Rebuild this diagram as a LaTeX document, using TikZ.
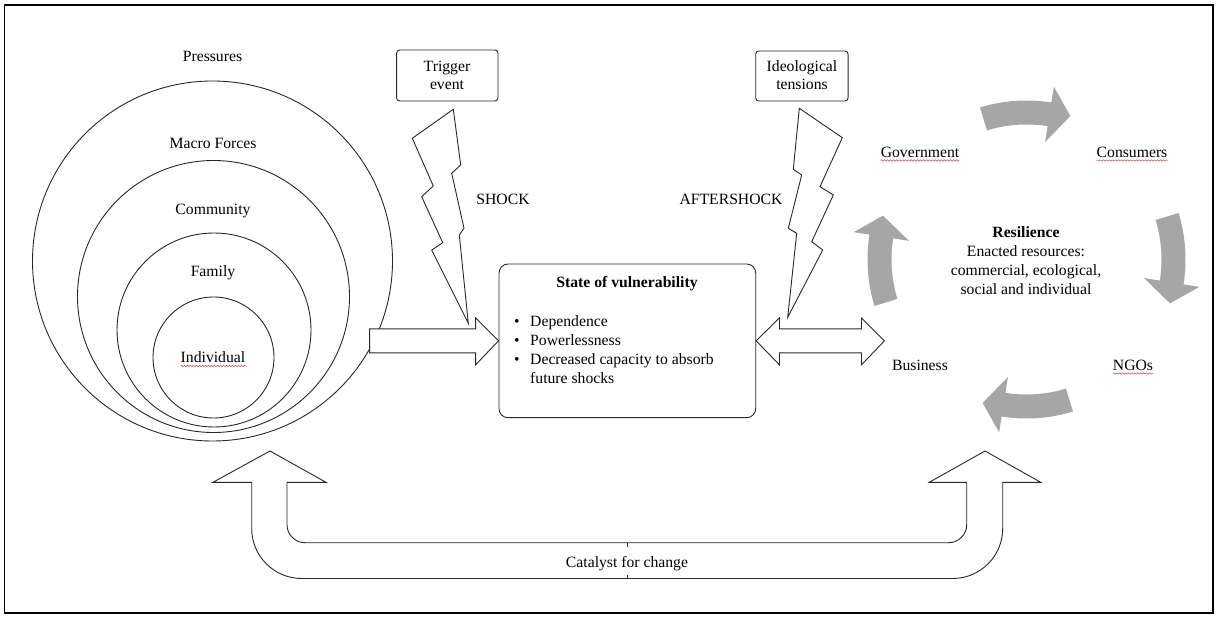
\documentclass[tikz,border=0pt]{standalone}
\usepackage{fontspec}
\setmainfont{Liberation Serif}
\usetikzlibrary{decorations.pathmorphing}
\definecolor{arrowgray}{RGB}{166,166,166}
\definecolor{linecol}{RGB}{40,40,40}
\definecolor{spellred}{RGB}{225,70,70}
\begin{document}
\begin{tikzpicture}[x=1pt,y=-1pt,
  font=\fontsize{15.7}{18.7}\selectfont,
  lbl/.style={inner sep=0pt, anchor=base},
  ring/.style={circle, draw=linecol, line width=0.9pt, inner sep=0pt},
  tbox/.style={draw=linecol, line width=0.9pt, rounded corners=3pt, inner sep=0pt},
  vbox/.style={draw=linecol, line width=0.9pt, rounded corners=9pt, inner sep=0pt},
  blk/.style={draw=linecol, line width=0.9pt, fill=white, line join=miter},
  tick/.style={draw=linecol, line width=0.7pt},
  spell/.style={draw=spellred, line width=0.5pt, decorate,
    decoration={snake, amplitude=0.7pt, segment length=3pt}},
  cyc/.style={fill=arrowgray}]
\useasboundingbox (0,0) rectangle (1216,617);
\draw[line width=1.8pt, black] (4.5,5) rectangle (1213,613);

% nested circles
\node[ring, minimum size=360pt] (cPress) at (212.5,261) {};
\node[ring, minimum size=272pt] (cMacro) at (213.5,296.5) {};
\node[ring, minimum size=194pt] (cComm) at (214,330) {};
\node[ring, minimum size=121pt] (cInd) at (213.5,357.5) {};
\node[lbl] (tPress) at (212.5,62) {Pressures};
\node[lbl] (tMacro) at (213,149) {Macro Forces};
\node[lbl] (tComm) at (213,215) {Community};
\node[lbl] (tFam) at (213,277) {Family};
\node[lbl] (tInd) at (213,363) {Individual};

% trigger boxes
\node[tbox, minimum width=101.3pt, minimum height=51pt] (trig) at (447.3,75.5) {};
\node[lbl] (trigText) at (447,71.5) {\begin{tabular}[t]{@{}c@{}}Trigger\\[-0.2pt]event\end{tabular}};
\node[tbox, minimum width=92.3pt, minimum height=50pt] (ideo) at (801.9,76) {};
\node[lbl] (ideoText) at (802,71.5) {\begin{tabular}[t]{@{}c@{}}Ideological\\[-0.2pt]tensions\end{tabular}};

\node[lbl] (shock) at (503,205) {SHOCK};
\node[lbl] (after) at (731,205) {AFTERSHOCK};

% state of vulnerability
\node[vbox, minimum width=256.7pt, minimum height=153.7pt] (vuln) at (627.35,340.85) {};
\node[lbl] (vTitle) at (627,288) {\bfseries State of vulnerability};
\node[lbl, anchor=base west] (vList) at (514,327) {\begin{tabular}[t]{@{}l@{}}%
\makebox[16pt][l]{\textbullet}Dependence\\
\makebox[16pt][l]{\textbullet}Powerlessness\\
\makebox[16pt][l]{\textbullet}Decreased capacity to absorb\\
\hspace*{16pt}future shocks\end{tabular}};

% lightning bolts
\draw[blk] (412.3,138.3) -- (453.3,109.3) -- (460.7,165) -- (451.7,173.3) -- (464,228.3)
  -- (459.3,235) -- (468.3,323.3) -- (431.7,250) -- (442.7,242.7) -- (421.7,196.7)
  -- (433.3,186) -- cycle;
\draw[blk] (799.3,108.3) -- (842.3,137.7) -- (820,186.7) -- (833.3,195) -- (811.7,241.7)
  -- (822.7,250) -- (787.7,317.3) -- (796.7,233.3) -- (788.3,228.3) -- (801.7,175)
  -- (793.3,169.3) -- cycle;

% block arrows to and from the vulnerability box
\draw[blk, shift={(vuln.west)}] (0,0) -- (-23,-23) -- (-23,-12) -- (-129,-12)
  -- (-129,12) -- (-23,12) -- (-23,24) -- cycle;
\draw[blk, shift={(vuln.east)}] (0,0) -- (23.3,-23) -- (23.3,-12) -- (105.3,-12)
  -- (105.3,-23) -- (128.3,0) -- (105.3,24) -- (105.3,12) -- (23.3,12) -- (23.3,24) -- cycle;

% resilience cycle
\node[lbl] (res) at (1026,238) {\begin{tabular}[t]{@{}c@{}}\textbf{Resilience}\\
Enacted resources:\\commercial, ecological,\\social and individual\end{tabular}};
\node[lbl] (gov) at (920,157.5) {Government};
\node[lbl] (cons) at (1132,157.5) {Consumers};
\node[lbl] (ngo) at (1133,370.5) {NGOs};
\node[lbl] (bus) at (920,370.5) {Business};
\begin{scope}[shift={(1026.5,259.5)}, yscale=-1]
\foreach \c in {90,0,-90,180}{
  \fill[cyc] (\c+17:159) arc[start angle=\c+17, end angle=\c-9, radius=159]
    -- (\c-9:175) -- (\c-17:150) -- (\c-9:119) -- (\c-9:135)
    arc[start angle=\c-9, end angle=\c+17, radius=135] -- cycle;
}
\end{scope}

% catalyst U-arrow
\draw[blk] (270,451) -- (326,482.3) -- (287,482.3) -- (287,524.7)
  .. controls (287,534.64) and (295.06,542.7) .. (305,542.7) -- (948.7,542.7)
  .. controls (958.64,542.7) and (966.7,534.64) .. (966.7,524.7) -- (966.7,482.3)
  -- (929.3,482.3) -- (985,451) -- (1040.7,482.3) -- (1002.7,482.3) -- (1002.7,528.5)
  .. controls (1002.7,556.1) and (980.3,578.5) .. (952.7,578.5) -- (301.7,578.5)
  .. controls (274.1,578.5) and (251.7,556.1) .. (251.7,528.5) -- (251.7,482.3)
  -- (213,482.3) -- cycle;
\coordinate (tickA) at (627,542.7);
\coordinate (tickB) at (627,578.5);
\draw[tick] (tickA) -- ++(0,3.8);
\draw[tick] (tickB) -- ++(0,-3.5);
\node[lbl] (cat) at (627,567.5) {Catalyst for change};

% spell-check underlines
\draw[spell] ([yshift=-3pt]tInd.base west) -- ([yshift=-3pt]tInd.base east);
\draw[spell] ([yshift=-3pt]gov.base west) -- ([yshift=-3pt]gov.base east);
\draw[spell] ([yshift=-3pt]cons.base west) -- ([yshift=-3pt]cons.base east);
\draw[spell] ([yshift=-3pt]ngo.base west) -- ([yshift=-3pt]ngo.base east);
\end{tikzpicture}
\end{document}
